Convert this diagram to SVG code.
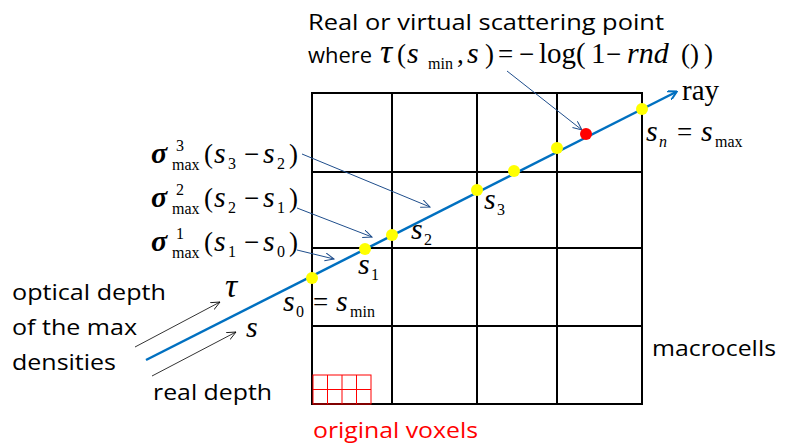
<svg xmlns="http://www.w3.org/2000/svg" width="794" height="448" viewBox="0 0 794 448">
<style>
.t{font-family:"Open Sans","Noto Sans","Liberation Sans",sans-serif;font-size:21px;fill:#000}
.m{font-family:"Liberation Serif","Times New Roman",serif;font-size:27px;fill:#000}
.v{font-family:"Liberation Serif","Times New Roman",serif;font-size:30px;font-style:italic;fill:#000}
.g{font-family:"Liberation Serif","Times New Roman",serif;font-size:30px;font-style:italic;font-weight:bold;fill:#000}
.tau{font-family:"Liberation Serif","Times New Roman",serif;font-size:34px;font-style:italic;fill:#000}
.sb{font-family:"Liberation Serif","Times New Roman",serif;font-size:16px;fill:#000}
.grid{stroke:#000;stroke-width:2;fill:none}
.vox{stroke:#ff0000;stroke-width:1;fill:none}
.ray{stroke:#0070c0;stroke-width:2.5;fill:none}
.ann{stroke:#1f4e8c;stroke-width:1;fill:none}
.annk{stroke:#000;stroke-width:0.8;fill:none}
.yp{fill:#ffff00}
.rp{fill:#ff0000}
</style>
<defs>
<marker id="rayhead" markerWidth="10" markerHeight="10" refX="8" refY="5" orient="auto" markerUnits="userSpaceOnUse">
<path d="M0,0 L9,5 L0,10" fill="none" stroke="#0070c0" stroke-width="2"/>
</marker>
<marker id="annhead" markerWidth="10" markerHeight="10" refX="9" refY="4" orient="auto" markerUnits="userSpaceOnUse">
<path d="M0,0 L9,4 L0,8" fill="none" stroke="#1f4e8c" stroke-width="1"/>
</marker>
<marker id="kh" markerWidth="10" markerHeight="10" refX="9" refY="4" orient="auto" markerUnits="userSpaceOnUse">
<path d="M0,0 L9,4 L0,8" fill="none" stroke="#000" stroke-width="0.8"/>
</marker>
</defs>
<rect width="794" height="448" fill="#fff"/>
<g id="macrocells-grid">
<rect class="grid" x="312" y="93" width="330" height="311"/>
<line class="grid" x1="392" y1="93" x2="392" y2="404"/>
<line class="grid" x1="477" y1="93" x2="477" y2="404"/>
<line class="grid" x1="557" y1="93" x2="557" y2="404"/>
<line class="grid" x1="312" y1="172" x2="642" y2="172"/>
<line class="grid" x1="312" y1="248" x2="642" y2="248"/>
<line class="grid" x1="312" y1="326" x2="642" y2="326"/>
</g>
<g id="voxels">
<rect class="vox" x="313" y="375" width="58" height="29"/>
<line class="vox" x1="327.5" y1="375" x2="327.5" y2="404"/>
<line class="vox" x1="342" y1="375" x2="342" y2="404"/>
<line class="vox" x1="356.5" y1="375" x2="356.5" y2="404"/>
<line class="vox" x1="313" y1="389.5" x2="371" y2="389.5"/>
</g>
<g id="connectors">
<line class="ray" x1="146" y1="360" x2="676" y2="92" marker-end="url(#rayhead)"/>
<line class="ann" x1="507" y1="71" x2="582" y2="130" marker-end="url(#annhead)"/>
<line class="ann" x1="302" y1="154" x2="430" y2="207" marker-end="url(#annhead)"/>
<line class="ann" x1="297" y1="208" x2="372" y2="237" marker-end="url(#annhead)"/>
<line class="ann" x1="297" y1="250" x2="334" y2="259" marker-end="url(#annhead)"/>
<line class="annk" x1="135" y1="347" x2="220" y2="302" marker-end="url(#kh)"/>
<line class="annk" x1="152" y1="376" x2="236" y2="332" marker-end="url(#kh)"/>
</g>
<g id="p0"><circle class="yp" cx="312" cy="278" r="6"/></g>
<g id="p1"><circle class="yp" cx="365" cy="249" r="6"/></g>
<g id="p2"><circle class="yp" cx="392" cy="235" r="6"/></g>
<g id="p3"><circle class="yp" cx="477" cy="190" r="6"/></g>
<g id="p4"><circle class="yp" cx="514" cy="171" r="6"/></g>
<g id="p5"><circle class="yp" cx="557" cy="148" r="6"/></g>
<g id="scatter"><circle class="rp" cx="586" cy="134" r="6"/></g>
<g id="pn"><circle class="yp" cx="642" cy="109" r="6"/></g>
<g id="labels-ray">
<text class="m" x="682" y="100" style="font-size:29px">ray</text>
<text class="v" x="646" y="141">s</text><text class="sb" x="659" y="147" style="font-style:italic">n</text>
<text class="m" x="677" y="141">=</text>
<text class="v" x="701" y="141">s</text><text class="sb" x="715" y="147">max</text>
<text class="v" x="484" y="209">s</text><text class="sb" x="497" y="215">3</text>
<text class="v" x="411" y="239">s</text><text class="sb" x="424" y="245">2</text>
<text class="v" x="358" y="274">s</text><text class="sb" x="371" y="280">1</text>
<text class="v" x="283" y="311">s</text><text class="sb" x="296" y="317">0</text>
<text class="m" x="313" y="311">=</text>
<text class="v" x="336" y="311">s</text><text class="sb" x="350" y="317">min</text>
</g>
<g id="label-sigma3">
<text class="g" x="151" y="163">σ</text>
<text class="sb" x="176" y="151">3</text><text class="sb" x="172" y="170">max</text>
<text class="m" x="204" y="163">(</text><text class="v" x="214" y="163">s</text><text class="sb" x="228" y="169">3</text>
<text class="m" x="244" y="163">−</text><text class="v" x="263" y="163">s</text><text class="sb" x="277" y="169">2</text>
<text class="m" x="289" y="163">)</text>
</g>
<g id="label-sigma2">
<text class="g" x="151" y="207">σ</text>
<text class="sb" x="176" y="195">2</text><text class="sb" x="172" y="214">max</text>
<text class="m" x="204" y="207">(</text><text class="v" x="214" y="207">s</text><text class="sb" x="228" y="213">2</text>
<text class="m" x="244" y="207">−</text><text class="v" x="263" y="207">s</text><text class="sb" x="277" y="213">1</text>
<text class="m" x="289" y="207">)</text>
</g>
<g id="label-sigma1">
<text class="g" x="151" y="251">σ</text>
<text class="sb" x="176" y="239">1</text><text class="sb" x="172" y="258">max</text>
<text class="m" x="204" y="251">(</text><text class="v" x="214" y="251">s</text><text class="sb" x="228" y="257">1</text>
<text class="m" x="244" y="251">−</text><text class="v" x="263" y="251">s</text><text class="sb" x="277" y="257">0</text>
<text class="m" x="289" y="251">)</text>
</g>
<g id="label-scatter">
<text class="t" x="308" y="30" textLength="356" lengthAdjust="spacingAndGlyphs">Real or virtual scattering point</text>
<text class="t" x="308" y="63" textLength="64" lengthAdjust="spacingAndGlyphs">where</text>
<text class="tau" x="380" y="63">τ</text>
<text class="m" x="397" y="63">(</text><text class="v" x="407" y="63">s</text><text class="sb" x="428" y="69">min</text>
<text class="m" x="457" y="63">,</text><text class="v" x="467" y="63">s</text><text class="m" x="485" y="63">)</text>
<text class="m" x="498" y="63">=</text><text class="m" x="519" y="63">−</text>
<text class="m" x="539" y="63" style="font-size:29px">log(</text><text class="m" x="591" y="63" style="font-size:29px">1</text>
<text class="m" x="606" y="63">−</text><text class="v" x="627" y="63">rnd</text>
<text class="m" x="681" y="63">()</text><text class="m" x="704" y="63">)</text>
</g>
<g id="label-tau">
<text class="tau" x="225" y="297">τ</text>
<text class="v" x="246" y="337">s</text>
</g>
<g id="label-optical">
<text class="t" x="12" y="300" textLength="154" lengthAdjust="spacingAndGlyphs">optical depth</text>
<text class="t" x="12" y="335" textLength="125" lengthAdjust="spacingAndGlyphs">of the max</text>
<text class="t" x="12" y="370" textLength="104" lengthAdjust="spacingAndGlyphs">densities</text>
</g>
<g id="label-real"><text class="t" x="153" y="400" textLength="119" lengthAdjust="spacingAndGlyphs">real depth</text></g>
<g id="label-macro"><text class="t" x="652" y="356" textLength="124" lengthAdjust="spacingAndGlyphs">macrocells</text></g>
<g id="label-voxels"><text class="t" x="313" y="438" style="fill:#ff0000" textLength="165" lengthAdjust="spacingAndGlyphs">original voxels</text></g>
</svg>
